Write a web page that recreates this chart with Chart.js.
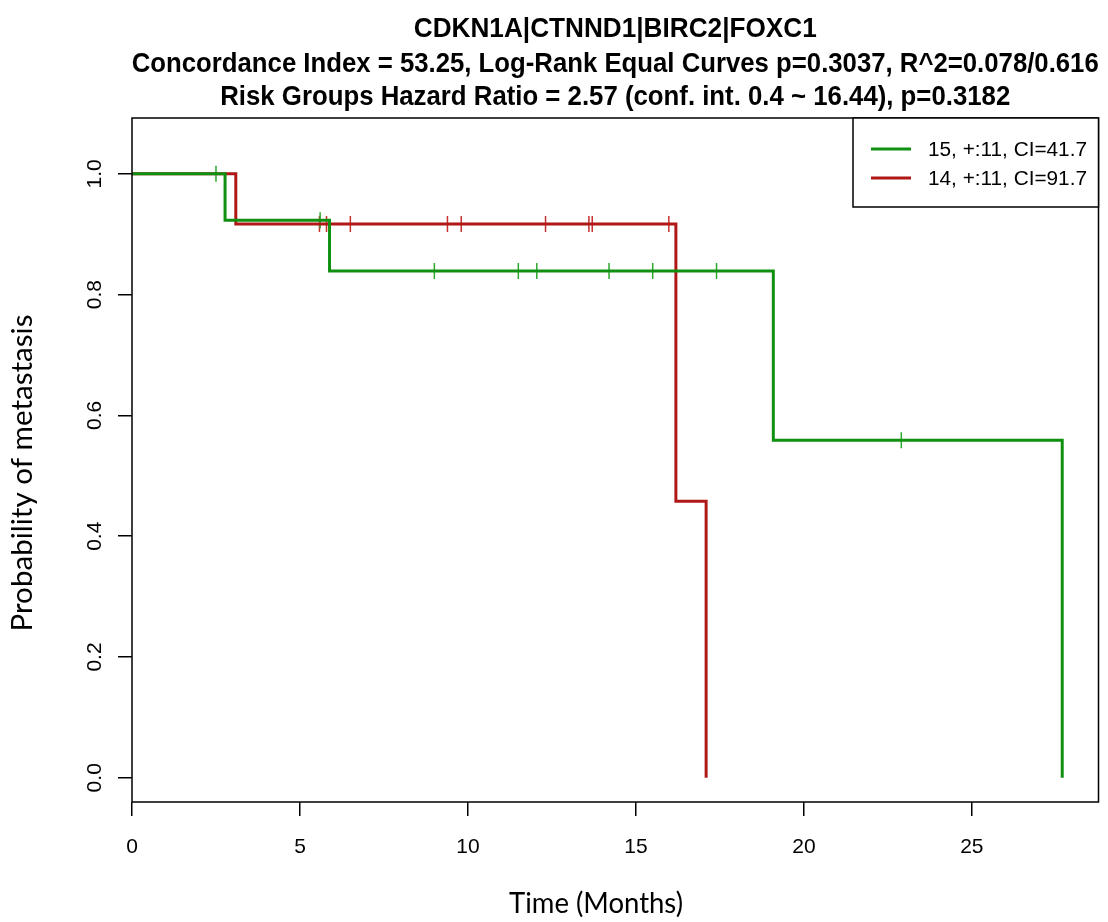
<!DOCTYPE html>
<html>
<head>
<meta charset="utf-8">
<script src="https://cdn.jsdelivr.net/npm/chart.js@4.4.1/dist/chart.umd.min.js"></script>
<style>
  html, body { margin: 0; padding: 0; background: #fff; }
  #wrap { width: 1108px; height: 922px; }
</style>
</head>
<body>
<div id="wrap"><canvas id="km" width="1108" height="922"></canvas></div>
<script>
const titleLines = [
  "CDKN1A|CTNND1|BIRC2|FOXC1",
  "Concordance Index = 53.25, Log-Rank Equal Curves p=0.3037, R^2=0.078/0.616",
  "Risk Groups Hazard Ratio = 2.57 (conf. int. 0.4 ~ 16.44), p=0.3182"
];
const xLabel = "Time (Months)";
const yLabel = "Probability of metastasis";
const xTicks = [0, 5, 10, 15, 20, 25];
const yTicks = [0, 0.2, 0.4, 0.6, 0.8, 1.0];
const groupLabels = ["15, +:11, CI=41.7", "14, +:11, CI=91.7"];

// green group (low risk) - km steps
const greenTimes = [0, 2.77, 5.88, 19.09, 27.69];
const greenSurv = [1, 0.923, 0.839, 0.559, 0];
const greenCensorTimes = [2.5, 5.6, 9.0, 11.5, 12.05, 14.2, 15.5, 17.4, 22.9];
const greenCensorSurv = [1, 0.923, 0.839, 0.839, 0.839, 0.839, 0.839, 0.839, 0.559];

// red group (high risk)
const redTimes = [0, 3.09, 16.19, 17.09];
const redSurv = [1, 0.917, 0.458, 0];
const redCensorTimes = [5.58, 5.79, 6.5, 9.39, 9.8, 12.31, 13.6, 13.7, 15.98];
const redCensorSurv = [0.917, 0.917, 0.917, 0.917, 0.917, 0.917, 0.917, 0.917, 0.917];

const GREEN = "#109010";
const RED = "#b01818";

function pts(xs, ys) {
  return xs.map((x, i) => ({ x: x, y: ys[i] }));
}

// draw text squeezed/stretched horizontally to a given width
function fitText(ctx, text, x, y, width, rotate) {
  const w = ctx.measureText(text).width;
  ctx.save();
  ctx.translate(x, y);
  if (rotate) ctx.rotate(-Math.PI / 2);
  ctx.scale(width / w, 1);
  ctx.fillText(text, 0, 0);
  ctx.restore();
}

const rDecor = {
  id: "rDecor",
  afterDraw(chart) {
    const ctx = chart.ctx;
    const a = chart.chartArea;
    const cx = (a.left + a.right) / 2;
    ctx.save();

    // plot box
    ctx.strokeStyle = "#000";
    ctx.lineWidth = 1.5;
    ctx.strokeRect(a.left, a.top, a.right - a.left, a.bottom - a.top);

    // titles
    ctx.fillStyle = "#000";
    ctx.textAlign = "center";
    ctx.textBaseline = "alphabetic";
    ctx.font = "bold 28px 'Liberation Sans'";
    fitText(ctx, titleLines[0], cx, 37, 403);
    fitText(ctx, titleLines[1], cx, 72, 967);
    fitText(ctx, titleLines[2], cx, 105, 790);

    // axis titles
    ctx.font = "28px Lato";
    fitText(ctx, xLabel, 596, 913, 174);
    fitText(ctx, yLabel, 32, 473, 317, true);

    // legend
    const lx = 853, ly = a.top, lw = a.right - 853, lh = 89;
    ctx.fillStyle = "#fff";
    ctx.fillRect(lx, ly, lw, lh);
    ctx.strokeStyle = "#000";
    ctx.lineWidth = 1.5;
    ctx.strokeRect(lx, ly, lw, lh);
    const cols = [GREEN, RED];
    const rows = [149, 178];
    ctx.font = "20px 'Liberation Sans'";
    ctx.textAlign = "left";
    ctx.textBaseline = "middle";
    const sx = 159 / ctx.measureText(groupLabels[0]).width;
    groupLabels.forEach((lab, i) => {
      ctx.strokeStyle = cols[i];
      ctx.lineWidth = 3;
      ctx.beginPath();
      ctx.moveTo(871, rows[i]);
      ctx.lineTo(911, rows[i]);
      ctx.stroke();
      ctx.fillStyle = "#000";
      ctx.save();
      ctx.translate(928, rows[i] + 1);
      ctx.scale(sx, 1);
      ctx.fillText(lab, 0, 0);
      ctx.restore();
    });
    ctx.restore();
  }
};

Chart.defaults.font.family = "'Liberation Sans', Arial, sans-serif";
Chart.defaults.color = "#000";

new Chart(document.getElementById("km"), {
  type: "line",
  data: {
    datasets: [
      {
        label: groupLabels[0],
        data: pts(greenTimes, greenSurv),
        borderColor: GREEN,
        borderWidth: 3,
        stepped: "before",
        pointRadius: 0,
        fill: false
      },
      {
        label: groupLabels[1],
        data: pts(redTimes, redSurv),
        borderColor: RED,
        borderWidth: 3,
        stepped: "before",
        pointRadius: 0,
        fill: false
      },
      {
        label: "green censored",
        data: pts(greenCensorTimes, greenCensorSurv),
        showLine: false,
        pointStyle: "cross",
        pointRadius: 8,
        borderColor: "#2aa82a",
        pointBorderWidth: 1.5
      },
      {
        label: "red censored",
        data: pts(redCensorTimes, redCensorSurv),
        showLine: false,
        pointStyle: "cross",
        pointRadius: 8,
        borderColor: "#c83030",
        pointBorderWidth: 1.5
      }
    ]
  },
  options: {
    responsive: false,
    animation: false,
    layout: { padding: { top: 118, right: 6, left: 0, bottom: 0 } },
    plugins: {
      legend: { display: false },
      tooltip: { enabled: false },
      title: { display: false }
    },
    scales: {
      x: {
        type: "linear",
        min: 0,
        max: 28.77,
        afterBuildTicks: s => { s.ticks = xTicks.map(v => ({ value: v })); },
        afterFit: s => { s.height = 120; },
        border: { display: false },
        grid: { drawOnChartArea: false, drawTicks: true, tickLength: 14, color: "#000", lineWidth: 1.5 },
        ticks: { font: { size: 21 }, padding: 19, maxRotation: 0, color: "#000" }
      },
      y: {
        type: "linear",
        min: -0.0401,
        max: 1.0925,
        afterBuildTicks: s => { s.ticks = yTicks.map(v => ({ value: v })); },
        afterFit: s => { s.width = 132; },
        border: { display: false },
        grid: { drawOnChartArea: false, drawTicks: true, tickLength: 14, color: "#000", lineWidth: 1.5 },
        ticks: {
          font: { size: 21 },
          padding: 8,
          minRotation: 90,
          maxRotation: 90,
          crossAlign: "center",
          color: "#000",
          callback: v => v.toFixed(1)
        }
      }
    }
  },
  plugins: [rDecor]
});
</script>
</body>
</html>
